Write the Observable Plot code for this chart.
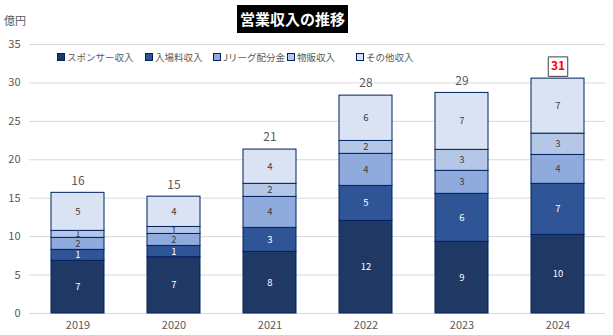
<!DOCTYPE html>
<html>
<head>
<meta charset="utf-8">
<script src="https://cdn.jsdelivr.net/npm/d3@7"></script>
<script src="https://cdn.jsdelivr.net/npm/@observablehq/plot@0.6"></script>
<style>
  body { margin: 0; background: #fff; }
  #wrap { position: relative; width: 613px; height: 335px; font-family: "Noto Sans CJK JP", "Noto Sans", sans-serif; }
  #wrap svg { position: absolute; left: 0; top: 0; }
  #title { position: absolute; left: 237px; top: 5px; width: 111px; height: 28px; background: #000; color: #fff;
    font-weight: bold; font-size: 15px; line-height: 28px; text-align: center; white-space: nowrap; }
  #unit { position: absolute; left: 4px; top: 12px; font-size: 11px; color: #595959; }
  #legend { position: absolute; top: 50px; left: 0; height: 16px; font-size: 9.5px; color: #595959; }
  .li { position: absolute; white-space: nowrap; display: flex; align-items: center; }
  .sw { display: inline-block; width: 6px; height: 6px; border: 1px solid #002060; margin-right: 2px; }
</style>
</head>
<body>
<div id="wrap">
  <div id="chart"></div>
  <div id="title">営業収入の推移</div>
  <div id="unit">億円</div>
  <div id="legend"></div>
</div>
<script>
const years = ["2019", "2020", "2021", "2022", "2023", "2024"];
const sponsor   = [6.85, 7.32, 8.02, 12.05, 9.32, 10.23];
const admission = [1.43, 1.47, 3.12, 4.55, 6.25, 6.64];
const jleague   = [1.56, 1.56, 4.03, 4.17, 2.99, 3.76];
const merch     = [0.91, 0.91, 1.70, 1.68, 2.73, 2.77];
const other     = [4.95, 3.94, 4.46, 5.90, 7.41, 7.16];
const seriesNames = ["スポンサー収入", "入場料収入", "Jリーグ配分金", "物販収入", "その他収入"];
const seriesColors = ["#203864", "#2f5597", "#8faadc", "#b4c7e7", "#dae3f3"];
const yTicks = [0, 5, 10, 15, 20, 25, 30, 35];
const highlightYear = "2024";
const legendX = [57, 145, 213, 287, 356];

const seriesValues = [sponsor, admission, jleague, merch, other];
const tidy = [];
years.forEach((yr, i) => {
  seriesNames.forEach((s, k) => tidy.push({year: yr, series: s, k, value: seriesValues[k][i]}));
});
const totals = years.map((yr, i) => ({year: yr, total: seriesValues.reduce((a, arr) => a + arr[i], 0)}));
const normalTotals = totals.filter(d => d.year !== highlightYear);
const hiTotals = totals.filter(d => d.year === highlightYear);

const chart = Plot.plot({
  width: 613, height: 335,
  marginLeft: 29, marginRight: 8, marginTop: 44, marginBottom: 22,
  style: {fontFamily: '"Noto Sans CJK JP", "Noto Sans", sans-serif', fontSize: "11px", color: "#595959", background: "transparent"},
  x: {domain: years, paddingInner: 0.45, paddingOuter: 0.225, label: null},
  y: {domain: [0, 35], label: null},
  color: {domain: seriesNames, range: seriesColors},
  marks: [
    Plot.ruleY(yTicks, {stroke: "#d9d9d9", strokeWidth: 1}),
    Plot.axisY({ticks: yTicks, tickSize: 0, tickPadding: 9, label: null, fontSize: 11}),
    Plot.axisX({tickSize: 0, tickPadding: 8, label: null, fontSize: 11}),
    Plot.barY(tidy, {x: "year", y: "value", z: "series", fill: "series", stroke: "#002060", strokeWidth: 1}),
    Plot.text(tidy, Plot.stackY({x: "year", y: "value", z: "series",
      text: d => Math.round(d.value),
      fill: d => d.k < 2 ? "#ffffff" : "#404040",
      fontSize: 9.5})),
    Plot.dot(hiTotals, {x: "year", y: "total", dy: -12, symbol: "square", r: 11,
      fill: "#ffffff", stroke: "#404040", strokeWidth: 1}),
    Plot.text(normalTotals, {x: "year", y: "total", dy: -12, text: d => Math.round(d.total),
      fill: "#595959", fontSize: 12}),
    Plot.text(hiTotals, {x: "year", y: "total", dy: -12, text: d => Math.round(d.total),
      fill: "#ff0000", fontWeight: "bold", fontSize: 12})
  ]
});
document.getElementById("chart").appendChild(chart);

const legend = document.getElementById("legend");
seriesNames.forEach((s, k) => {
  const li = document.createElement("div");
  li.className = "li";
  li.style.left = legendX[k] + "px";
  const sw = document.createElement("span");
  sw.className = "sw";
  sw.style.background = seriesColors[k];
  li.appendChild(sw);
  li.appendChild(document.createTextNode(s));
  legend.appendChild(li);
});
</script>
</body>
</html>
